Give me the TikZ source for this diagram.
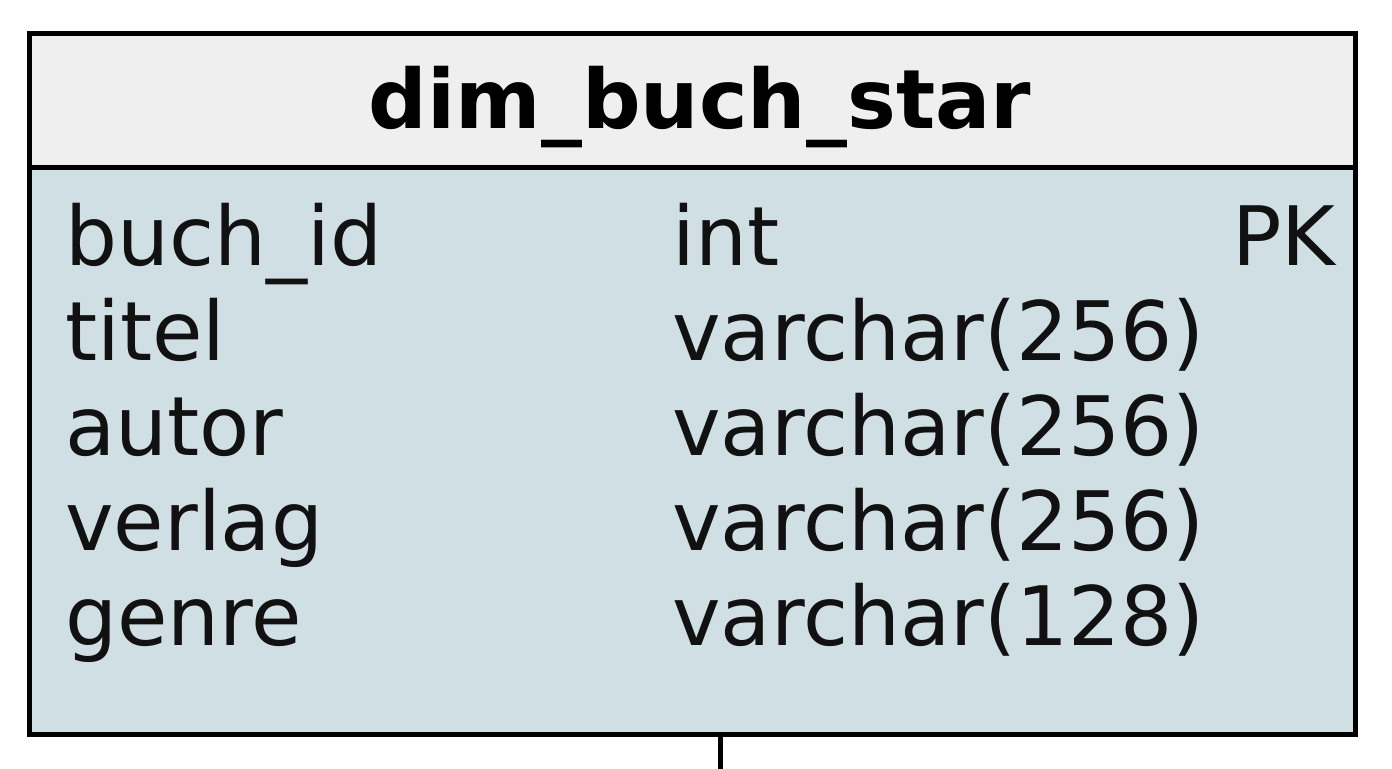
\documentclass[tikz,border=0pt]{standalone}
\usepackage{fontspec}
\setmainfont{DejaVu Sans}
\definecolor{headfill}{HTML}{EFEFEF}
\definecolor{bodyfill}{HTML}{D0DFE4}
\definecolor{ink}{HTML}{111111}
\begin{document}
\begin{tikzpicture}[x=0.5pt,y=-0.5pt,
  box/.style={draw=black,line width=2.5pt,inner sep=0pt,outer sep=0pt,minimum width=663pt},
  field/.style={anchor=base west,inner sep=0pt,text=ink,font=\fontsize{41}{48}\selectfont},
  title/.style={anchor=base,inner sep=0pt,text=black,font=\fontsize{41}{48}\selectfont\bfseries}]
\useasboundingbox (0,0) rectangle (1392,768);
\node[box,fill=headfill,minimum height=66.75pt] (head) at (692.5,100.25) {};
\node[box,fill=bodyfill,minimum height=283.75pt] (body) at (692.5,450.75) {};
\node[title] (t) at (700,128) {dim\_buch\_star};
\node[field] (n1) at (65,265) {buch\_id};
\node[field] (n2) at (65,360) {titel};
\node[field] (n3) at (65,455) {autor};
\node[field] (n4) at (65,550) {verlag};
\node[field] (n5) at (65,645) {genre};
\node[field] (ty1) at (672,265) {int};
\node[field] (ty2) at (672,360) {varchar(256)};
\node[field] (ty3) at (672,455) {varchar(256)};
\node[field] (ty4) at (672,550) {varchar(256)};
\node[field] (ty5) at (672,645) {varchar(128)};
\node[field,anchor=base east] (pk) at (1336,265) {PK};
\coordinate (down) at (720,780);
\draw[line width=2.5pt] (body.south -| 720,0) -- (down);
\end{tikzpicture}
\end{document}
